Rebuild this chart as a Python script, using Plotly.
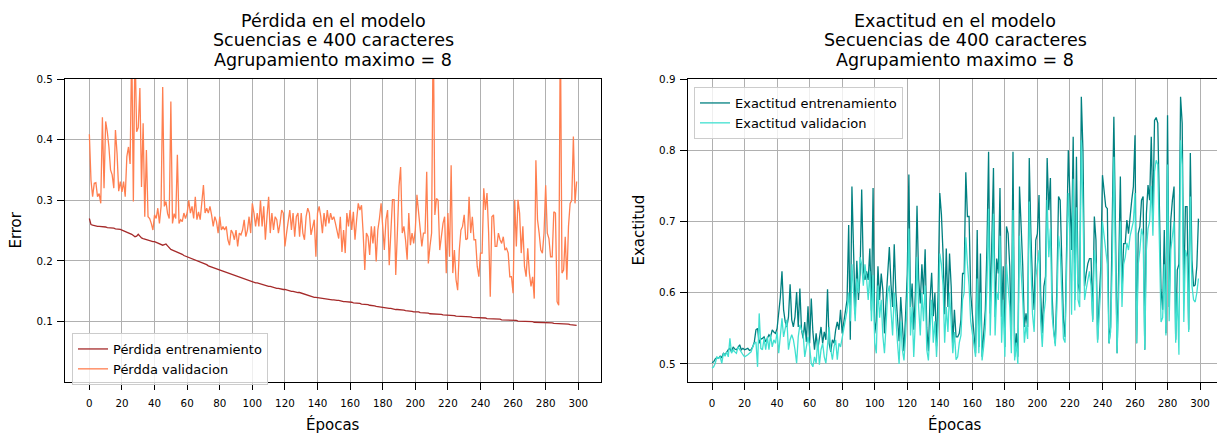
import plotly.graph_objects as go

W, H = 1217, 434
FONT = "DejaVu Sans"

epochs = list(range(300))

loss_train = [
    .270, .260, .259, .258, .258, .257, .257, .257, .256, .256,
    .256, .255, .255, .255, .254, .254, .253, .253, .252, .252,
    .251, .250, .249, .248, .246, .245, .244, .242, .240, .241,
    .244, .241, .238, .237, .236, .236, .235, .234, .233, .232,
    .232, .231, .230, .228, .227, .226, .227, .228, .225, .222,
    .219, .218, .217, .216, .214, .213, .212, .211, .209, .208,
    .207, .206, .205, .203, .202, .201, .200, .199, .198, .197,
    .196, .195, .194, .192, .191, .190, .189, .188, .187, .186,
    .185, .184, .183, .182, .181, .180, .179, .178, .177, .176,
    .175, .174, .173, .172, .171, .170, .170, .169, .168, .167,
    .166, .165, .164, .164, .163, .162, .161, .160, .160, .159,
    .158, .158, .157, .156, .156, .155, .155, .154, .154, .153,
    .153, .152, .152, .151, .150, .150, .149, .149, .148, .148,
    .147, .146, .146, .145, .144, .143, .142, .141, .140, .140,
    .1395, .139, .139, .138, .138, .138, .137, .137, .136, .136,
    .136, .135, .135, .135, .134, .134, .133, .133, .133, .132,
    .132, .132, .131, .131, .130, .130, .130, .129, .129, .128,
    .128, .128, .127, .127, .126, .126, .125, .125, .124, .124,
    .1236, .123, .123, .122, .122, .122, .121, .121, .120, .120,
    .120, .119, .119, .119, .118, .118, .117, .117, .117, .116,
    .1164, .116, .116, .115, .115, .115, .114, .114, .114, .113,
    .113, .113, .113, .112, .112, .112, .112, .111, .111, .111,
    .111, .110, .110, .110, .110, .109, .109, .109, .109, .109,
    .109, .108, .108, .108, .108, .107, .107, .107, .107, .106,
    .1065, .106, .106, .106, .105, .105, .105, .105, .104, .104,
    .104, .104, .104, .103, .103, .103, .103, .103, .102, .102,
    .1022, .102, .102, .101, .101, .101, .101, .100, .100, .100,
    .100, .100, .100, .099, .099, .099, .099, .099, .099, .099,
    .0989, .098, .098, .098, .098, .097, .097, .097, .097, .097,
    .0965, .096, .096, .096, .096, .095, .095, .095, .095, .094,
]

loss_val = [
    .409, .333, .306, .328, .329, .306, .311, .295, .437, .320,
    .430, .413, .388, .350, .342, .320, .416, .377, .315, .331,
    .314, .331, .306, .372, .388, .360, .560, .298, .560, .413,
    .420, .485, .322, .427, .273, .383, .273, .270, .262, .251,
    .276, .270, .287, .262, .290, .487, .290, .298, .278, .270,
    .463, .262, .278, .270, .375, .262, .268, .265, .279, .270,
    .279, .300, .279, .290, .270, .306, .268, .281, .268, .295,
    .325, .279, .287, .279, .290, .276, .257, .273, .265, .246,
    .273, .251, .257, .251, .257, .235, .226, .251, .246, .235,
    .251, .224, .246, .243, .251, .268, .240, .251, .273, .246,
    .295, .279, .257, .279, .257, .300, .257, .290, .235, .273,
    .306, .246, .279, .251, .273, .268, .246, .262, .284, .279,
    .224, .246, .268, .284, .251, .279, .240, .273, .279, .240,
    .279, .246, .235, .273, .287, .279, .243, .257, .268, .207,
    .279, .290, .273, .246, .279, .257, .284, .262, .279, .268,
    .273, .262, .251, .237, .273, .215, .251, .213, .279, .257,
    .284, .251, .281, .235, .268, .295, .284, .292, .246, .185,
    .246, .240, .210, .257, .229, .257, .199, .251, .270, .295,
    .257, .218, .268, .284, .193, .246, .301, .301, .177, .246,
    .323, .355, .246, .257, .235, .202, .279, .226, .246, .229,
    .251, .309, .279, .246, .224, .246, .246, .347, .196, .224,
    .246, .600, .276, .303, .300, .218, .246, .262, .273, .180,
    .279, .207, .358, .180, .218, .169, .152, .218, .251, .257,
    .276, .235, .237, .306, .246, .273, .235, .235, .191, .174,
    .213, .213, .320, .284, .312, .246, .141, .273, .276, .224,
    .224, .246, .235, .229, .240, .218, .221, .213, .174, .174,
    .147, .301, .224, .301, .279, .213, .257, .191, .174, .221,
    .180, .158, .174, .138, .366, .268, .246, .218, .213, .246,
    .325, .246, .237, .207, .207, .281, .279, .133, .127, .600,
    .180, .185, .240, .169, .257, .295, .300, .405, .295, .331,
]

acc_train = [
    .502, .503, .507, .509, .508, .511, .509, .515, .513, .517,
    .520, .522, .517, .524, .521, .520, .523, .527, .520, .522,
    .520, .521, .522, .519, .520, .524, .531, .548, .550, .529,
    .535, .536, .538, .531, .537, .541, .538, .548, .545, .543,
    .550, .571, .594, .630, .576, .559, .552, .566, .612, .562,
    .552, .566, .601, .552, .606, .548, .536, .559, .531, .581,
    .529, .592, .545, .520, .543, .520, .538, .552, .529, .545,
    .534, .605, .529, .517, .534, .529, .548, .559, .548, .576,
    .543, .560, .576, .590, .695, .534, .749, .637, .570, .645,
    .590, .627, .745, .632, .618, .630, .618, .662, .575, .747,
    .543, .560, .637, .590, .627, .604, .543, .590, .620, .664,
    .612, .580, .668, .600, .565, .532, .594, .551, .518, .570,
    .626, .766, .580, .613, .548, .600, .722, .620, .585, .640,
    .598, .661, .551, .518, .590, .628, .567, .600, .525, .600,
    .740, .710, .655, .570, .662, .580, .655, .609, .529, .576,
    .538, .538, .543, .562, .627, .627, .769, .707, .707, .599,
    .571, .543, .515, .688, .524, .655, .510, .543, .576, .665,
    .798, .571, .655, .775, .566, .648, .627, .747, .566, .637,
    .524, .693, .683, .637, .534, .798, .510, .543, .510, .749,
    .693, .637, .552, .571, .552, .789, .683, .613, .576, .674,
    .683, .737, .599, .543, .609, .623, .789, .716, .761, .599,
    .548, .529, .609, .735, .730, .637, .562, .538, .683, .800,
    .735, .660, .819, .590, .791, .613, .599, .875, .800, .609,
    .627, .641, .648, .648, .562, .707, .674, .534, .590, .637,
    .765, .740, .721, .718, .529, .552, .683, .847, .693, .515,
    .637, .763, .599, .669, .669, .702, .683, .711, .730, .749,
    .821, .529, .683, .693, .730, .735, .520, .711, .751, .730,
    .819, .707, .842, .846, .838, .721, .604, .576, .688, .543,
    .849, .580, .702, .730, .749, .534, .632, .640, .875, .838,
    .604, .721, .721, .548, .796, .646, .609, .611, .637, .704,
]

acc_val = [
    .494, .496, .501, .510, .508, .510, .501, .515, .511, .517,
    .510, .536, .515, .520, .517, .515, .524, .520, .515, .513,
    .510, .511, .513, .515, .517, .524, .529, .531, .496, .571,
    .522, .520, .536, .520, .538, .520, .541, .524, .534, .529,
    .545, .515, .538, .564, .538, .548, .562, .520, .534, .541,
    .534, .520, .501, .538, .555, .548, .543, .510, .524, .538,
    .524, .501, .496, .510, .501, .534, .499, .520, .529, .510,
    .501, .529, .552, .520, .506, .524, .534, .506, .529, .524,
    .538, .552, .566, .575, .600, .560, .640, .600, .560, .620,
    .600, .650, .640, .610, .640, .620, .590, .630, .560, .625,
    .530, .515, .610, .565, .590, .540, .515, .555, .600, .610,
    .580, .540, .600, .560, .530, .500, .560, .520, .505, .540,
    .590, .690, .540, .580, .510, .560, .650, .580, .540, .600,
    .560, .610, .520, .505, .550, .590, .530, .560, .510, .555,
    .655, .640, .610, .530, .580, .545, .600, .560, .515, .545,
    .506, .510, .530, .540, .590, .600, .678, .640, .610, .560,
    .545, .530, .510, .620, .515, .600, .505, .525, .550, .610,
    .718, .540, .610, .711, .540, .600, .590, .680, .530, .590,
    .510, .640, .610, .580, .515, .716, .505, .530, .500, .680,
    .630, .590, .530, .555, .535, .728, .640, .570, .545, .620,
    .640, .660, .560, .524, .570, .590, .730, .650, .690, .570,
    .545, .525, .580, .680, .660, .600, .536, .530, .640, .740,
    .680, .569, .760, .575, .720, .590, .580, .814, .720, .590,
    .605, .620, .630, .610, .559, .660, .640, .530, .575, .610,
    .700, .680, .660, .640, .529, .545, .640, .791, .640, .515,
    .600, .700, .580, .640, .650, .670, .660, .680, .690, .700,
    .740, .529, .640, .660, .690, .680, .520, .660, .690, .700,
    .750, .680, .770, .786, .780, .680, .559, .565, .640, .540,
    .780, .560, .660, .680, .700, .530, .600, .513, .814, .780,
    .559, .660, .650, .545, .735, .610, .590, .587, .600, .620,
]

x_ticks = list(range(0, 301, 20))
loss_ticks = [0.1, 0.2, 0.3, 0.4, 0.5]
acc_ticks = [0.5, 0.6, 0.7, 0.8, 0.9]

left_title = ["Pérdida en el modelo", "Scuencias e 400 caracteres", "Agrupamiento maximo = 8"]
right_title = ["Exactitud en el modelo", "Secuencias de 400 caracteres", "Agrupamiento maximo = 8"]


def fx(p):
    return p / W


def fy(p):
    return 1 - p / H


y_dom = [fy(382.3), fy(79)]
left_dom = [fx(65), fx(601)]
right_dom = [fx(687.7), 1.0]

fig = go.Figure()
fig.add_trace(go.Scatter(x=epochs, y=loss_train, mode="lines", name="Pérdida entrenamiento",
                         line=dict(color="#a52a2a", width=1.3), xaxis="x", yaxis="y", legend="legend"))
fig.add_trace(go.Scatter(x=epochs, y=loss_val, mode="lines", name="Pérdda validacion",
                         line=dict(color="#ff7f50", width=1.3), xaxis="x", yaxis="y", legend="legend"))
fig.add_trace(go.Scatter(x=epochs, y=acc_train, mode="lines", name="Exactitud entrenamiento",
                         line=dict(color="#008080", width=1.3), xaxis="x2", yaxis="y2", legend="legend2"))
fig.add_trace(go.Scatter(x=epochs, y=acc_val, mode="lines", name="Exactitud validacion",
                         line=dict(color="#40e0d0", width=1.3), xaxis="x2", yaxis="y2", legend="legend2"))

axis_style = dict(
    showline=True, linecolor="black", linewidth=1.3,
    ticks="outside", ticklen=7, tickwidth=1.2, tickcolor="black",
    showgrid=True, gridcolor="#b0b0b0", gridwidth=1.3, zeroline=False,
    tickfont=dict(family=FONT, size=10.3, color="black"), automargin=False,
)
x_style = dict(axis_style, ticklabelstandoff=4)
y_style = dict(axis_style, ticklabelstandoff=2)

legend_style = dict(
    xanchor="left", yanchor="top", bgcolor="rgba(255,255,255,0.8)",
    bordercolor="#cccccc", borderwidth=1,
    font=dict(family=FONT, size=13, color="black"), tracegroupgap=0,
)

annotations = []
for title, cx in ((left_title, 333), (right_title, 955)):
    for line, cy in zip(title, (20.7, 40.2, 59.7)):
        annotations.append(dict(text=line, x=fx(cx), y=fy(cy), xref="paper", yref="paper",
                                xanchor="center", yanchor="middle", showarrow=False,
                                font=dict(family=FONT, size=17.5, color="black")))
for cx in (333, 955):
    annotations.append(dict(text="Épocas", x=fx(cx), y=fy(424.5), xref="paper", yref="paper",
                            xanchor="center", yanchor="middle", showarrow=False,
                            font=dict(family=FONT, size=15, color="black")))
annotations.append(dict(text="Error", x=fx(16), y=fy(230.6), xref="paper", yref="paper",
                        xanchor="center", yanchor="middle", showarrow=False, textangle=-90,
                        font=dict(family=FONT, size=15, color="black")))
annotations.append(dict(text="Exactitud", x=fx(639), y=fy(230.6), xref="paper", yref="paper",
                        xanchor="center", yanchor="middle", showarrow=False, textangle=-90,
                        font=dict(family=FONT, size=15, color="black")))

fig.update_layout(
    width=W, height=H, margin=dict(l=0, r=0, t=0, b=0),
    paper_bgcolor="white", plot_bgcolor="white", showlegend=True,
    xaxis=dict(domain=left_dom, range=[-14.95, 313.95], tickvals=x_ticks, mirror=True,
               anchor="y", **x_style),
    yaxis=dict(domain=y_dom, range=[0, 0.5], tickvals=loss_ticks,
               ticktext=[f"{v:.1f}" for v in loss_ticks], mirror=True, anchor="x", **y_style),
    xaxis2=dict(domain=right_dom, range=[-14.95, 310.4], tickvals=x_ticks, mirror=True,
                anchor="y2", **x_style),
    yaxis2=dict(domain=y_dom, range=[0.4743, 0.9], tickvals=acc_ticks,
                ticktext=[f"{v:.1f}" for v in acc_ticks], anchor="x2", **y_style),
    legend=dict(x=fx(72), y=fy(333), **legend_style),
    legend2=dict(x=fx(694), y=fy(87), **legend_style),
    annotations=annotations,
)

fig.write_html("out.html")
